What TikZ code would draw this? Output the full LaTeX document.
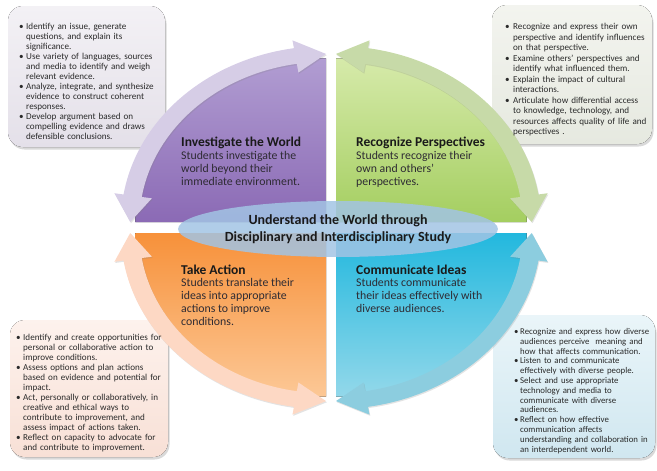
\documentclass[tikz,border=0pt]{standalone}
\usepackage{fontspec}
\setmainfont{Carlito}
\usetikzlibrary{shadows,shapes.geometric}
\definecolor{pTop}{HTML}{B19DD2}\definecolor{pBot}{HTML}{8B6AB5}\definecolor{pBand}{HTML}{D6CDE6}
\definecolor{gTop}{HTML}{D6EAAA}\definecolor{gBot}{HTML}{A4CE60}\definecolor{gBand}{HTML}{C7DAA8}
\definecolor{bTop}{HTML}{22B8DE}\definecolor{bBot}{HTML}{93D8EA}\definecolor{bBand}{HTML}{8CCDDF}
\definecolor{oTop}{HTML}{F7913A}\definecolor{oBot}{HTML}{FCC896}\definecolor{oBand}{HTML}{FDD8C4}
\definecolor{tlA}{HTML}{F3F1F5}\definecolor{tlB}{HTML}{E4E0E9}
\definecolor{trA}{HTML}{F3F4EF}\definecolor{trB}{HTML}{E6E9E0}
\definecolor{blA}{HTML}{FDF2ED}\definecolor{blB}{HTML}{F8E0D6}
\definecolor{brA}{HTML}{EAF5F9}\definecolor{brB}{HTML}{D0E7F0}
\definecolor{ellC}{HTML}{A2C4E4}
\definecolor{txt}{HTML}{1A1A1A}\definecolor{body}{HTML}{2E2B33}\definecolor{ltxt}{HTML}{2A2A2A}
\newcommand\qsector[6]{%
  \fill[top color=#5,bottom color=#6] (#1,#2) -- plot[domain=#3:#4,samples=40,variable=\t]
    ({#1+0.93*205*cos(\t)},{#2+0.93*176*sin(\t)}) -- cycle;}
\newcommand\qband[5]{%
  \fill[#5,bandshadow]
    ({#1+0.955*205*cos(#3)},{#2+0.955*176*sin(#3)})
 -- ({#1+1.045*205*cos(#3+9)},{#2+1.045*176*sin(#3+9)})
 -- ({#1+205*cos(#3+9)},{#2+176*sin(#3+9)})
 -- plot[domain=#3+9:#4-9,samples=40,variable=\t] ({#1+205*cos(\t)},{#2+176*sin(\t)})
 -- ({#1+1.045*205*cos(#4-9)},{#2+1.045*176*sin(#4-9)})
 -- ({#1+0.955*205*cos(#4)},{#2+0.955*176*sin(#4)})
 -- ({#1+0.86*205*cos(#4-9)},{#2+0.86*176*sin(#4-9)})
 -- ({#1+0.91*205*cos(#4-9)},{#2+0.91*176*sin(#4-9)})
 -- plot[domain=#4-9:#3+9,samples=40,variable=\t] ({#1+0.91*205*cos(\t)},{#2+0.91*176*sin(\t)})
 -- ({#1+0.86*205*cos(#3+9)},{#2+0.86*176*sin(#3+9)})
 -- cycle;}
\newcommand\bitem[2][7pt]{\par\noindent\makebox[#1][l]{•}{\lineskiplimit=0pt\begin{tabular}[t]{@{}l@{}}#2\end{tabular}}\par\prevdepth=0.3\baselineskip}
\newcommand\listfont[2]{\fontsize{#1}{#2}\selectfont\lineskiplimit=-50pt\lineskip=0pt\parskip=0pt}
\begin{document}
\begin{tikzpicture}[x=1pt,y=-1pt,
  bandshadow/.style={drop shadow={opacity=0.22,shadow xshift=0.8pt,shadow yshift=-1.2pt}},
  boxshadow/.style={drop shadow={opacity=0.3,shadow xshift=1.5pt,shadow yshift=-2.5pt}},
  cbox/.style={rounded corners=15pt,boxshadow},
  blist/.style={anchor=north west,inner sep=0pt,align=left,text width=165pt,text=ltxt},
  qtitle/.style={anchor=base west,inner sep=0pt,font=\bfseries\fontsize{13.5}{16}\selectfont,text=txt},
  qbody/.style={anchor=north west,inner sep=0pt,align=left,font=\fontsize{11.8}{13}\selectfont,text=body}]
\useasboundingbox (0,0) rectangle (657,471);
% corner boxes
\fill[cbox,top color=tlA,bottom color=tlB] (8,6) rectangle (165,147);
\fill[cbox,top color=trA,bottom color=trB] (492,5) rectangle (652,144);
\fill[cbox,top color=blA,bottom color=blB] (10,320) rectangle (168,457);
\fill[cbox,top color=brA,bottom color=brB] (493,315) rectangle (655,458);
% quadrant sectors
\qsector{326}{222}{180}{270}{pTop}{pBot}
\qsector{336}{222}{270}{360}{gTop}{gBot}
\qsector{336}{233}{0}{90}{bTop}{bBot}
\qsector{326}{233}{90}{180}{oTop}{oBot}
% arrow bands
\qband{326}{222}{180}{270}{pBand}
\qband{336}{222}{270}{360}{gBand}
\qband{336}{233}{0}{90}{bBand}
\qband{326}{233}{90}{180}{oBand}
% centre ellipse
\node[ellipse,fill=ellC,fill opacity=0.85,text opacity=1,minimum width=240pt,minimum height=56pt,inner sep=0pt,
  align=center,font=\bfseries\fontsize{14}{17}\selectfont,text=txt] (core) at (338,229)
  {Understand the World through\\Disciplinary and Interdisciplinary Study};
% quadrant texts
\node[qtitle] (tInv) at (181,146.5) {Investigate the World};
\node[qbody] (bInv) at (181,151.5) {Students investigate the\\world beyond their\\immediate environment.};
\node[qtitle] (tRec) at (356,146.5) {Recognize Perspectives};
\node[qbody] (bRec) at (356,151.5) {Students recognize their\\own and others’\\perspectives.};
\node[qtitle] (tAct) at (181,274.5) {Take Action};
\node[qbody] (bAct) at (181,278.5) {Students translate their\\ideas into appropriate\\actions to improve\\conditions.};
\node[qtitle] (tCom) at (356,274.5) {Communicate Ideas};
\node[qbody] (bCom) at (356,278.5) {Students communicate\\their ideas effectively with\\diverse audiences.};
% corner lists
\node[blist,font=\listfont{9.1}{10}] (lInv) at (19,19.5) {%
\bitem{Identify an issue, generate\\questions, and explain its\\significance.}
\bitem{Use variety of languages, sources\\and media to identify and weigh\\relevant evidence.}
\bitem{Analyze, integrate, and synthesize\\evidence to construct coherent\\responses.}
\bitem{Develop argument based on\\compelling evidence and draws\\defensible conclusions.}};
\node[blist,font=\listfont{9.1}{10.5}] (lRec) at (505,19) {%
\bitem[8pt]{Recognize and express their own\\perspective and identify influences\\on that perspective.}
\bitem[8pt]{Examine others’ perspectives and\\identify what influenced them.}
\bitem[8pt]{Explain the impact of cultural\\interactions.}
\bitem[8pt]{Articulate how differential access\\to knowledge, technology, and\\resources affects quality of life and\\perspectives .}};
\node[blist,font=\listfont{9.1}{10}] (lAct) at (16,330.5) {%
\bitem{Identify and create opportunities for\\personal or collaborative action to\\improve conditions.}
\bitem{Assess options and plan actions\\based on evidence and potential for\\impact.}
\bitem{Act, personally or collaboratively, in\\creative and ethical ways to\\contribute to improvement, and\\assess impact of actions taken.}
\bitem{Reflect on capacity to advocate for\\and contribute to improvement.}};
\node[blist,font=\listfont{8.8}{9.8}] (lCom) at (514,324.5) {%
\bitem[6pt]{Recognize and express how diverse\\audiences perceive\ \ meaning and\\how that affects communication.}
\bitem[6pt]{Listen to and communicate\\effectively with diverse people.}
\bitem[6pt]{Select and use appropriate\\technology and media to\\communicate with diverse\\audiences.}
\bitem[6pt]{Reflect on how effective\\communication affects\\understanding and collaboration in\\an interdependent world.}};
\end{tikzpicture}
\end{document}
